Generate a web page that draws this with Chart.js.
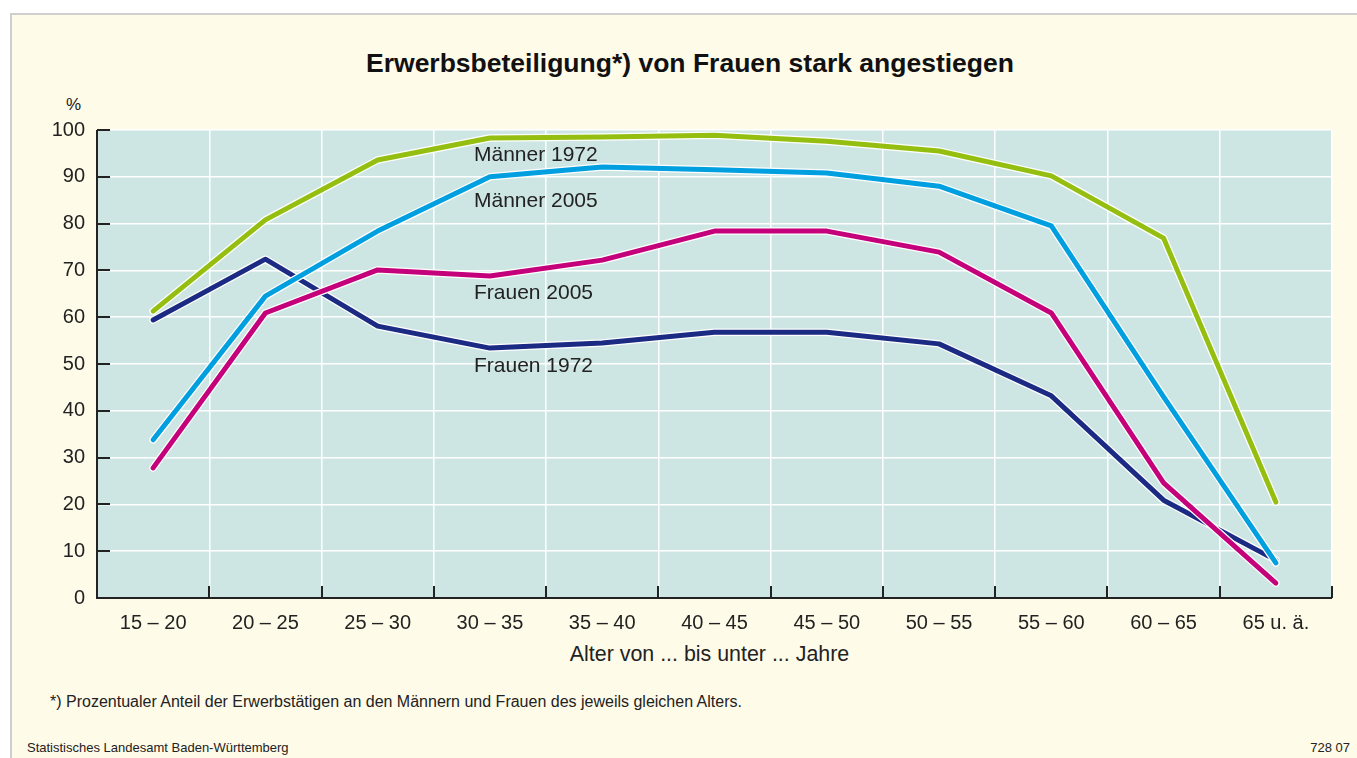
<!DOCTYPE html>
<html>
<head>
<meta charset="utf-8">
<script src="https://cdn.jsdelivr.net/npm/chart.js@4/dist/chart.umd.min.js"></script>
<style>
  html, body { margin: 0; padding: 0; background: #ffffff; }
  body { width: 1357px; height: 758px; position: relative; overflow: hidden; font-family: "Liberation Sans", Arial, sans-serif; color: #222; }
  #panel { position: absolute; left: 10px; top: 13px; right: -4px; bottom: -4px; background: #fffbe9; border: 2px solid #cfcfcf; }
  #chart { position: absolute; left: 0; top: 0; }
  .txt { position: absolute; white-space: nowrap; }
  #title { left: 0; width: 1380px; top: 48px; text-align: center; font-weight: bold; font-size: 26.5px; color: #111; }
  #pct { left: 66px; top: 95px; font-size: 17px; }
  #xtitle { left: 92px; width: 1235px; top: 642px; text-align: center; font-size: 21.4px; }
  #note { left: 50px; top: 693px; font-size: 16px; }
  #src { left: 27px; top: 740px; font-size: 13px; }
  #num { right: 7px; top: 740px; font-size: 13px; }
</style>
</head>
<body>
<div id="panel"></div>
<div class="txt" id="title">Erwerbsbeteiligung*) von Frauen stark angestiegen</div>
<div class="txt" id="pct">%</div>
<div class="txt" id="xtitle">Alter von ... bis unter ... Jahre</div>
<div class="txt" id="note">*) Prozentualer Anteil der Erwerbstätigen an den Männern und Frauen des jeweils gleichen Alters.</div>
<div class="txt" id="src">Statistisches Landesamt Baden-Württemberg</div>
<div class="txt" id="num">728 07</div>
<canvas id="chart" width="1357" height="758"></canvas>
<script>
// age groups
const ages = ["15 – 20", "20 – 25", "25 – 30", "30 – 35", "35 – 40", "40 – 45",
              "45 – 50", "50 – 55", "55 – 60", "60 – 65", "65 u. ä."];

// participation rates in %
const maenner1972 = [61.3, 80.8, 93.6, 98.3, 98.5, 98.9, 97.6, 95.5, 90.2, 76.9, 20.5];
const maenner2005 = [33.8, 64.5, 78.4, 90.0, 92.1, 91.5, 90.8, 88.0, 79.5, 43.0, 7.5];
const frauen2005  = [27.8, 60.9, 70.1, 68.8, 72.2, 78.4, 78.4, 73.9, 60.9, 24.6, 3.2];
const frauen1972  = [59.4, 72.4, 58.1, 53.4, 54.5, 56.8, 56.8, 54.3, 43.2, 20.9, 8.1];

const seriesNames = ["Männer 1972", "Männer 2005", "Frauen 2005", "Frauen 1972"];
const seriesColors = ["#95bf10", "#009fe0", "#c4007b", "#1b2a82"];
// where the in-plot labels sit (value on y axis)
const labelLevels = [94.7, 84.8, 65.2, 49.6];

const yTicks = [0, 10, 20, 30, 40, 50, 60, 70, 80, 90, 100];

const FONT = "'Liberation Sans', Arial, sans-serif";

// teal plot background, white halo under lines, inward ticks, series labels
const decor = {
  id: "decor",
  beforeDraw(chart) {
    const { ctx, chartArea: a } = chart;
    ctx.save();
    ctx.fillStyle = "#cee6e3";
    ctx.fillRect(a.left, a.top, a.right - a.left, a.bottom - a.top);
    ctx.restore();
  },
  beforeDatasetDraw(chart, args) {
    const pts = args.meta.data;
    const ctx = chart.ctx;
    ctx.save();
    ctx.strokeStyle = "#ffffff";
    ctx.lineWidth = 7.5;
    ctx.lineJoin = "round";
    ctx.lineCap = "round";
    ctx.beginPath();
    pts.forEach((p, i) => i ? ctx.lineTo(p.x, p.y) : ctx.moveTo(p.x, p.y));
    ctx.stroke();
    ctx.restore();
  },
  afterDraw(chart) {
    const { ctx, chartArea: a, scales } = chart;
    ctx.save();
    ctx.strokeStyle = "#222";
    ctx.lineWidth = 2;
    ctx.beginPath();
    ctx.moveTo(a.left, a.top);
    ctx.lineTo(a.left, a.bottom);
    ctx.lineTo(a.right, a.bottom);
    // y ticks pointing into the plot
    yTicks.forEach(v => {
      const y = Math.round(scales.y.getPixelForValue(v));
      ctx.moveTo(a.left, y);
      ctx.lineTo(a.left + 13, y);
    });
    // x ticks at group boundaries
    const step = (a.right - a.left) / ages.length;
    for (let i = 1; i <= ages.length; i++) {
      const x = Math.round(a.left + step * i);
      ctx.moveTo(x, a.bottom);
      ctx.lineTo(x, a.bottom - 12);
    }
    ctx.stroke();

    ctx.fillStyle = "#222";
    ctx.font = "21px " + FONT;
    ctx.textBaseline = "middle";
    ctx.textAlign = "left";
    const lx = scales.x.getPixelForValue(3) - 16;
    seriesNames.forEach((n, i) => {
      ctx.fillText(n, lx, scales.y.getPixelForValue(labelLevels[i]));
    });
    ctx.restore();
  }
};

const values = [maenner1972, maenner2005, frauen2005, frauen1972];

new Chart(document.getElementById("chart"), {
  type: "line",
  data: {
    labels: ages,
    datasets: values.map((d, i) => ({
      label: seriesNames[i],
      data: d,
      borderColor: seriesColors[i],
      borderWidth: 5,
      borderCapStyle: "round",
      borderJoinStyle: "round",
      pointRadius: 0,
      tension: 0,
      clip: false
    }))
  },
  options: {
    responsive: false,
    animation: false,
    events: [],
    layout: { padding: { top: 130, right: 25, left: 0, bottom: 0 } },
    plugins: {
      legend: { display: false },
      title: { display: false },
      tooltip: { enabled: false }
    },
    scales: {
      x: {
        offset: true,
        grid: { offset: true, color: "#ffffff", lineWidth: 1.5, drawTicks: false },
        border: { display: false },
        ticks: { color: "#222", font: { family: FONT, size: 20 }, padding: 13, maxRotation: 0, autoSkip: false },
        afterFit(s) { s.height = 160; }
      },
      y: {
        min: 0,
        max: 100,
        grid: { color: "#ffffff", lineWidth: 1.5, drawTicks: false },
        border: { display: false },
        ticks: { stepSize: 10, color: "#222", font: { family: FONT, size: 20 }, padding: 12 },
        afterFit(s) { s.width = 97; }
      }
    }
  },
  plugins: [decor]
});
</script>
</body>
</html>
